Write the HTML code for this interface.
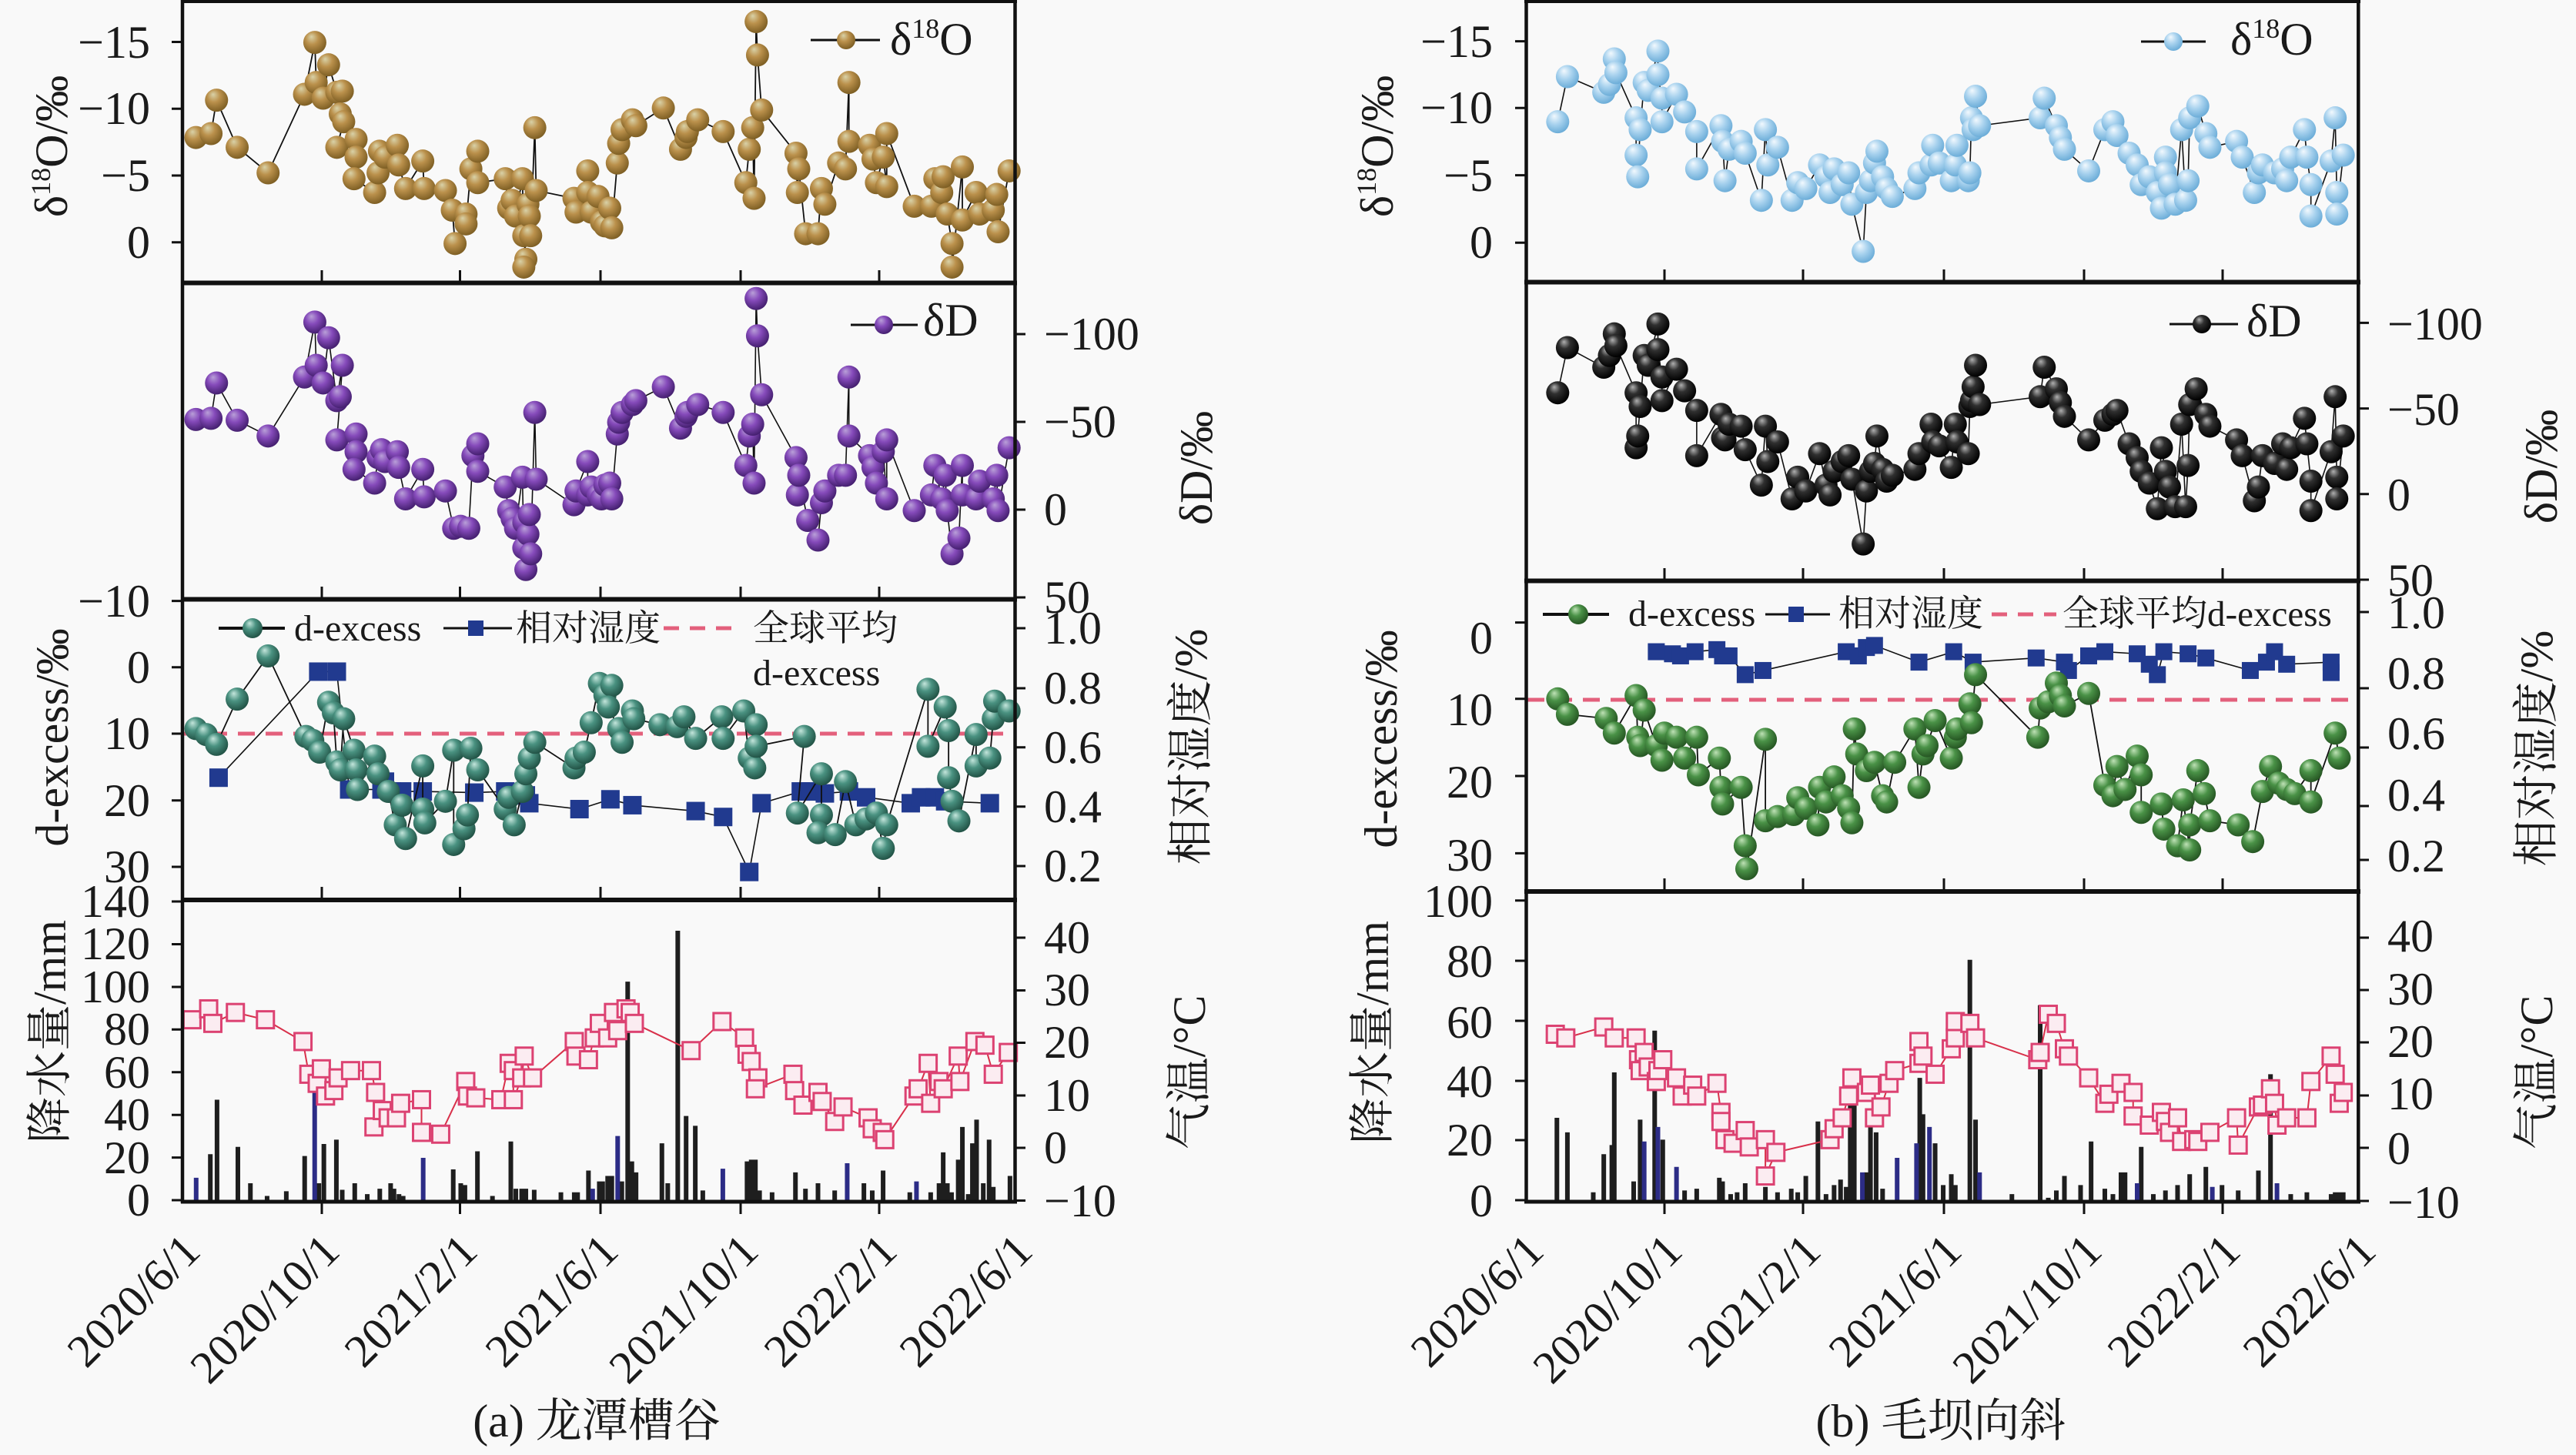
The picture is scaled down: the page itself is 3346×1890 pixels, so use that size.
<!DOCTYPE html>
<html><head><meta charset="utf-8"><style>
html,body{margin:0;padding:0;background:#f9f9f9;}
svg{display:block;}
text{font-family:"Liberation Serif","Noto Serif CJK SC",serif;fill:#1a1a1a;}
</style></head><body>
<svg width="3346" height="1890" viewBox="0 0 3346 1890" xmlns="http://www.w3.org/2000/svg">
<defs>
<radialGradient id="gGold" cx="0.42" cy="0.38" r="0.62" fx="0.35" fy="0.25"><stop offset="0" stop-color="#d9d2a8"/><stop offset="0.45" stop-color="#bb914c"/><stop offset="1" stop-color="#7e5f24"/></radialGradient>
<radialGradient id="gPurp" cx="0.42" cy="0.38" r="0.62" fx="0.35" fy="0.25"><stop offset="0" stop-color="#b9a0d8"/><stop offset="0.45" stop-color="#864bbb"/><stop offset="1" stop-color="#452070"/></radialGradient>
<radialGradient id="gTeal" cx="0.42" cy="0.38" r="0.62" fx="0.35" fy="0.25"><stop offset="0" stop-color="#c4e6dc"/><stop offset="0.45" stop-color="#4a9281"/><stop offset="1" stop-color="#225346"/></radialGradient>
<radialGradient id="gBlue" cx="0.42" cy="0.38" r="0.62" fx="0.35" fy="0.25"><stop offset="0" stop-color="#f2f9fe"/><stop offset="0.5" stop-color="#a8d2ee"/><stop offset="1" stop-color="#6cadd8"/></radialGradient>
<radialGradient id="gBlack" cx="0.42" cy="0.38" r="0.62" fx="0.35" fy="0.25"><stop offset="0" stop-color="#b0b0b0"/><stop offset="0.4" stop-color="#303030"/><stop offset="1" stop-color="#000"/></radialGradient>
<radialGradient id="gGreen" cx="0.42" cy="0.38" r="0.62" fx="0.35" fy="0.25"><stop offset="0" stop-color="#bfe2b6"/><stop offset="0.45" stop-color="#4a9247"/><stop offset="1" stop-color="#265623"/></radialGradient>

<marker id="mGold" markerUnits="userSpaceOnUse" markerWidth="1" markerHeight="1" refX="0" refY="0" orient="0" overflow="visible" style="overflow:visible"><ellipse cx="0" cy="0" rx="16.8" ry="29.4" fill="url(#gGold)"/></marker>
<marker id="mPurp" markerUnits="userSpaceOnUse" markerWidth="1" markerHeight="1" refX="0" refY="0" orient="0" overflow="visible" style="overflow:visible"><ellipse cx="0" cy="0" rx="16.8" ry="29.4" fill="url(#gPurp)"/></marker>
<marker id="mTeal" markerUnits="userSpaceOnUse" markerWidth="1" markerHeight="1" refX="0" refY="0" orient="0" overflow="visible" style="overflow:visible"><ellipse cx="0" cy="0" rx="16.8" ry="29.4" fill="url(#gTeal)"/></marker>
<marker id="mRH2" markerUnits="userSpaceOnUse" markerWidth="1" markerHeight="1" refX="0" refY="0" orient="0" overflow="visible" style="overflow:visible"><rect x="-13.44" y="-23.52" width="26.88" height="47.04" fill="#213a8f"/></marker>
<marker id="mBlue" markerUnits="userSpaceOnUse" markerWidth="1" markerHeight="1" refX="0" refY="0" orient="0" overflow="visible" style="overflow:visible"><ellipse cx="0" cy="0" rx="14.29" ry="29.4" fill="url(#gBlue)"/></marker>
<marker id="mBlack" markerUnits="userSpaceOnUse" markerWidth="1" markerHeight="1" refX="0" refY="0" orient="0" overflow="visible" style="overflow:visible"><ellipse cx="0" cy="0" rx="14.29" ry="29.4" fill="url(#gBlack)"/></marker>
<marker id="mGreen" markerUnits="userSpaceOnUse" markerWidth="1" markerHeight="1" refX="0" refY="0" orient="0" overflow="visible" style="overflow:visible"><ellipse cx="0" cy="0" rx="14.29" ry="27.67" fill="url(#gGreen)"/></marker>
<marker id="mRH5" markerUnits="userSpaceOnUse" markerWidth="1" markerHeight="1" refX="0" refY="0" orient="0" overflow="visible" style="overflow:visible"><rect x="-10.48" y="-20.29" width="20.96" height="40.58" fill="#213a8f"/></marker>
<marker id="mT3" markerUnits="userSpaceOnUse" markerWidth="1" markerHeight="1" refX="0" refY="0" orient="0" overflow="visible" style="overflow:visible"><rect x="-11.53" y="-26.49" width="23.06" height="52.97" fill="#dc4272"/><rect x="-8.76" y="-20.13" width="17.52" height="40.26" fill="#fbecf1"/></marker>
<marker id="mT6" markerUnits="userSpaceOnUse" markerWidth="1" markerHeight="1" refX="0" refY="0" orient="0" overflow="visible" style="overflow:visible"><rect x="-11.91" y="-26.49" width="23.82" height="52.97" fill="#dc4272"/><rect x="-9.05" y="-20.13" width="18.1" height="40.26" fill="#fbecf1"/></marker>
</defs>

<rect x="0" y="0" width="3346" height="1890" fill="#f9f9f9"/>

<!-- ================= LEFT CHART DATA ================= -->
<g transform="scale(0.892857,0.510204)">
<polyline fill="none" stroke="#111" stroke-width="1.8" vector-effect="non-scaling-stroke" marker-start="url(#mGold)" marker-mid="url(#mGold)" marker-end="url(#mGold)" points="285,350 307,340 315,255 345,375 390,440 443,240 458,108 460,210 470,250 478,165 490,235 498,232 495,290 500,310 490,375 518,355 518,400 515,455 545,490 550,440 552,385 560,400 578,370 580,420 590,480 615,410 617,480 648,485 658,535 662,620 678,545 678,570 685,430 695,385 695,465 735,455 740,530 745,510 750,550 760,455 762,600 765,660 762,680 768,520 770,550 772,600 778,325 780,485 835,505 838,540 855,435 855,490 860,540 870,500 875,565 880,575 887,530 890,580 898,415 900,365 905,330 920,305 925,320 965,275 990,380 998,350 1000,335 1015,305 1052,335 1085,465 1090,380 1095,325 1097,505 1100,55 1102,140 1108,280 1158,390 1160,490 1162,430 1172,595 1190,595 1195,480 1200,520 1220,415 1230,430 1235,210 1235,360 1265,370 1270,405 1275,465 1285,400 1290,475 1290,340 1330,525 1355,525 1360,455 1370,490 1372,450 1378,545 1385,620 1385,680 1400,425 1400,560 1420,490 1425,545 1445,535 1450,495 1452,590 1468,435"/>
<polyline fill="none" stroke="#111" stroke-width="1.6" vector-effect="non-scaling-stroke" marker-start="url(#mPurp)" marker-mid="url(#mPurp)" marker-end="url(#mPurp)" points="285,1068 307,1065 315,975 345,1070 390,1110 443,960 458,820 460,930 470,975 478,860 490,1020 498,930 495,1010 490,1120 518,1105 518,1150 515,1195 545,1230 550,1165 555,1145 560,1175 578,1150 580,1190 590,1270 615,1195 617,1265 648,1250 660,1345 670,1340 682,1345 688,1160 695,1130 695,1200 735,1240 740,1300 745,1320 750,1345 760,1215 762,1395 765,1450 762,1330 768,1360 770,1310 772,1410 778,1050 780,1220 835,1285 838,1250 855,1175 855,1260 860,1240 870,1260 875,1270 880,1235 887,1230 890,1270 898,1105 900,1075 905,1050 920,1030 925,1020 965,985 990,1090 998,1060 1000,1050 1015,1030 1052,1050 1085,1185 1090,1110 1095,1080 1097,1230 1100,760 1102,855 1108,1005 1158,1165 1160,1260 1162,1210 1175,1325 1190,1375 1195,1280 1200,1250 1220,1210 1230,1210 1235,960 1235,1110 1265,1160 1270,1190 1275,1230 1285,1150 1290,1270 1290,1120 1330,1300 1355,1260 1360,1185 1370,1270 1375,1210 1378,1300 1385,1410 1395,1370 1400,1185 1400,1260 1420,1270 1425,1225 1445,1270 1450,1210 1452,1300 1468,1140"/>
</g>

<line x1="237" y1="953" x2="1318" y2="953" stroke="#e3607c" stroke-width="5" stroke-dasharray="22 14"/>
<g transform="translate(0,750) scale(0.892857,0.510204)">
<polyline fill="none" stroke="#111" stroke-width="1.6" vector-effect="non-scaling-stroke" marker-start="url(#mRH2)" marker-mid="url(#mRH2)" marker-end="url(#mRH2)" points="318,510 463,240 490,240 508,540 555,540 560,520 570,545 585,545 615,545 690,548 735,545 765,555 770,575 843,590 888,565 920,580 1012,595 1052,610 1090,750 1108,575 1165,545 1180,545 1200,550 1235,545 1260,560 1325,575 1340,560 1360,560 1375,570 1440,575"/>
<polyline fill="none" stroke="#111" stroke-width="1.8" vector-effect="non-scaling-stroke" marker-start="url(#mTeal)" marker-mid="url(#mTeal)" marker-end="url(#mTeal)" points="285,385 300,400 315,425 345,310 390,200 445,405 455,415 465,445 478,318 485,345 490,470 495,490 500,360 515,440 518,490 520,540 545,455 550,500 565,545 575,630 585,580 590,665 615,480 615,590 618,625 648,570 660,440 660,680 675,640 680,605 685,435 695,490 735,590 740,560 748,630 760,545 765,500 770,460 778,420 835,485 838,460 850,445 860,370 872,270 880,300 890,275 885,330 900,385 905,420 920,340 922,360 960,375 985,380 995,355 1012,410 1050,355 1052,410 1082,340 1090,460 1098,485 1100,375 1100,430 1170,405 1160,600 1195,500 1195,605 1190,650 1215,655 1230,520 1245,630 1260,615 1275,600 1285,690 1290,630 1350,285 1350,430 1375,330 1380,390 1380,510 1385,570 1395,620 1420,400 1420,480 1440,460 1445,360 1447,315 1468,340"/>
</g>

<g transform="translate(0,1150) scale(1.084184,0.471939)">
<path fill="none" stroke="#1e1e1e" stroke-width="5.53" d="M252 740V866 M260 590V866 M285 720V866 M300 820V866 M320 855V866 M343 842V866 M365 745V866 M382 820V866 M388 712V866 M403 700V866 M410 838V866 M425 820V866 M440 850V866 M455 835V866 M468 820V866 M472 835V866 M478 850V866 M483 855V866 M543 782V866 M552 820V866 M557 825V866 M572 732V866 M590 855V866 M612 705V866 M618 835V866 M625 835V866 M630 835V866 M640 838V866 M672 845V866 M688 845V866 M692 845V866 M705 785V866 M718 815V866 M722 815V866 M728 800V866 M733 800V866 M745 815V866 M752 265V866 M757 760V866 M762 790V866 M793 710V866 M800 820V866 M812 125V866 M822 635V866 M833 662V866 M842 840V866 M895 760V866 M900 755V866 M905 755V866 M910 840V866 M925 845V866 M953 790V866 M965 835V866 M980 820V866 M1000 840V866 M1035 820V866 M1045 840V866 M1058 785V866 M1090 845V866 M1115 845V866 M1125 820V866 M1130 735V866 M1135 820V866 M1140 845V866 M1148 755V866 M1153 665V866 M1160 850V866 M1165 710V866 M1170 645V866 M1178 820V866 M1185 700V866 M1190 830V866 M1210 800V866"/>
<path fill="none" stroke="#2c2c86" stroke-width="5.53" d="M235 805V866 M377 570V866 M507 750V866 M710 835V866 M740 690V866 M866 780V866 M1015 765V866 M1098 815V866"/>
<polyline fill="none" stroke="#d8304a" stroke-width="2" vector-effect="non-scaling-stroke" marker-start="url(#mT3)" marker-mid="url(#mT3)" marker-end="url(#mT3)" points="230,370 250,340 255,380 282,350 318,370 363,430 370,520 380,545 385,505 390,580 400,565 405,530 420,510 445,510 450,570 448,665 458,620 465,640 475,640 480,600 505,590 505,680 528,685 558,540 560,580 570,585 600,590 610,490 615,510 615,590 625,530 628,470 638,530 688,430 690,470 705,480 712,420 718,380 728,420 735,350 740,400 750,340 755,350 760,380 828,455 865,375 892,420 895,465 900,485 908,530 905,560 950,520 952,565 962,605 980,570 985,595 1000,650 1010,610 1040,640 1045,670 1057,680 1060,700 1095,580 1100,560 1112,490 1115,600 1125,540 1130,560 1148,470 1150,540 1168,430 1180,440 1190,520 1208,460"/>
</g>

<!-- ================= RIGHT CHART DATA ================= -->
<g transform="translate(1700,0) scale(1.049745,0.510204)">
<polyline fill="none" stroke="#111" stroke-width="1.6" vector-effect="non-scaling-stroke" marker-start="url(#mBlue)" marker-mid="url(#mBlue)" marker-end="url(#mBlue)" points="308,310 320,195 365,235 372,215 378,150 380,185 405,300 405,395 407,450 410,330 415,210 420,230 432,130 432,190 437,250 437,310 455,240 465,285 480,335 480,430 510,320 512,360 515,460 520,380 535,360 540,390 560,510 565,330 568,420 580,375 598,510 605,465 615,480 632,420 640,450 645,490 650,430 660,470 668,440 672,520 686,640 690,490 695,460 700,415 703,385 710,450 715,480 722,500 750,480 755,440 770,420 772,370 780,415 795,460 800,420 802,370 816,460 818,440 820,300 822,330 825,245 830,320 905,300 910,250 925,320 930,350 935,380 965,435 985,330 995,310 1000,345 1015,390 1025,420 1030,470 1040,450 1050,490 1055,530 1060,400 1060,440 1065,470 1072,520 1080,330 1085,510 1088,460 1090,300 1100,270 1110,340 1115,375 1148,360 1155,400 1170,490 1175,440 1180,420 1195,440 1205,430 1210,460 1215,400 1232,330 1235,400 1240,470 1240,550 1265,410 1270,300 1272,490 1272,545 1280,395"/>
<polyline fill="none" stroke="#111" stroke-width="1.6" vector-effect="non-scaling-stroke" marker-start="url(#mBlack)" marker-mid="url(#mBlack)" marker-end="url(#mBlack)" points="308,1000 320,885 365,935 372,905 378,850 380,880 405,1000 405,1140 407,1110 410,1035 415,905 420,930 432,825 432,890 437,960 437,1020 455,940 465,995 480,1045 480,1160 510,1055 512,1115 515,1120 520,1080 535,1085 540,1145 560,1235 565,1085 568,1175 580,1125 598,1270 605,1215 615,1250 632,1155 640,1235 645,1260 650,1200 660,1175 668,1160 672,1220 686,1385 690,1250 695,1200 700,1180 703,1110 710,1195 715,1225 722,1210 750,1195 755,1155 770,1080 772,1125 780,1135 795,1190 800,1080 802,1125 816,1155 818,1035 820,1020 822,985 825,930 830,1030 905,1010 910,935 925,990 930,1025 935,1060 965,1120 985,1070 995,1055 1000,1045 1015,1130 1025,1165 1030,1200 1040,1230 1050,1295 1055,1140 1060,1200 1065,1240 1072,1290 1080,1080 1085,1290 1088,1185 1090,1030 1098,990 1110,1055 1115,1085 1148,1120 1155,1160 1170,1275 1175,1240 1180,1160 1195,1180 1205,1130 1210,1195 1215,1140 1232,1065 1235,1130 1240,1225 1240,1300 1265,1150 1270,1010 1272,1215 1272,1270 1280,1110"/>
</g>

<line x1="1984" y1="909" x2="3062" y2="909" stroke="#e3607c" stroke-width="5" stroke-dasharray="22 14"/>
<g transform="translate(1700,730) scale(1.049745,0.542092)">
<polyline fill="none" stroke="#111" stroke-width="1.6" vector-effect="non-scaling-stroke" marker-start="url(#mRH5)" marker-mid="url(#mRH5)" marker-end="url(#mRH5)" points="430,215 450,220 460,225 478,215 505,210 512,225 520,225 540,270 562,260 665,215 680,225 690,205 700,200 755,240 798,215 822,240 900,230 935,240 940,260 965,225 985,215 1025,220 1040,245 1050,270 1058,215 1088,220 1110,230 1165,260 1185,240 1195,215 1210,245 1265,240 1265,265"/>
<polyline fill="none" stroke="#111" stroke-width="1.8" vector-effect="non-scaling-stroke" marker-start="url(#mGreen)" marker-mid="url(#mGreen)" marker-end="url(#mGreen)" points="308,328 320,365 368,375 378,410 405,320 407,420 410,440 415,355 430,440 437,475 440,410 455,420 465,470 480,420 482,510 508,470 510,540 512,580 535,540 540,680 542,735 565,425 565,620 580,610 600,605 605,565 615,590 630,630 632,540 640,575 650,515 660,560 668,590 672,625 675,400 678,460 690,500 700,480 710,560 715,575 725,480 750,400 755,540 760,460 765,440 775,380 795,470 800,420 802,400 818,340 820,385 825,270 902,420 905,350 915,335 925,290 930,320 935,345 965,315 985,535 995,560 1000,490 1010,545 1025,465 1030,510 1030,600 1055,580 1058,640 1075,680 1082,570 1090,690 1090,630 1100,500 1108,555 1115,620 1150,630 1168,670 1180,550 1190,490 1200,530 1210,545 1220,555 1240,500 1240,575 1270,410 1275,470"/>
</g>

<g transform="translate(1700,1150) scale(1.049745,0.471939)">
<path fill="none" stroke="#1e1e1e" stroke-width="5.72" d="M307 640V867 M320 680V867 M352 845V867 M365 740V867 M375 715V867 M378 515V867 M402 815V867 M410 645V867 M428 400V867 M438 700V867 M465 840V867 M480 835V867 M508 805V867 M512 815V867 M522 850V867 M530 845V867 M540 820V867 M565 830V867 M580 845V867 M597 835V867 M605 845V867 M615 800V867 M630 650V867 M640 850V867 M650 825V867 M658 810V867 M665 830V867 M670 600V867 M675 575V867 M690 790V867 M695 665V867 M702 680V867 M710 835V867 M756 530V867 M760 630V867 M775 710V867 M785 825V867 M795 795V867 M800 825V867 M818 205V867 M825 645V867 M870 850V867 M905 330V867 M915 860V867 M925 840V867 M935 800V867 M955 825V867 M968 705V867 M985 835V867 M995 850V867 M1005 790V867 M1010 790V867 M1030 720V867 M1045 850V867 M1060 840V867 M1075 825V867 M1090 795V867 M1110 775V867 M1130 825V867 M1150 840V867 M1175 785V867 M1190 520V867 M1215 850V867 M1235 845V867 M1265 850V867 M1270 845V867 M1275 845V867 M1280 845V867"/>
<path fill="none" stroke="#2c2c86" stroke-width="5.72" d="M415 705V867 M432 665V867 M455 775V867 M685 790V867 M728 750V867 M752 710V867 M768 665V867 M830 790V867 M1025 820V867 M1118 830V867 M1198 820V867"/>
<polyline fill="none" stroke="#d8304a" stroke-width="2" vector-effect="non-scaling-stroke" marker-start="url(#mT6)" marker-mid="url(#mT6)" marker-end="url(#mT6)" points="305,410 318,420 365,390 378,420 405,420 408,480 410,510 415,460 420,500 430,540 432,510 438,480 455,530 462,580 475,550 480,580 505,545 510,625 510,650 515,700 525,710 540,675 545,720 565,700 565,800 578,735 645,700 650,670 660,640 668,580 672,530 690,570 695,550 700,640 708,610 718,545 725,510 755,490 755,430 760,470 775,520 795,450 800,420 800,375 818,380 825,420 902,480 905,460 915,355 925,380 935,450 940,470 965,530 985,600 990,575 1005,545 1020,570 1020,635 1040,660 1055,625 1060,650 1065,680 1075,640 1080,705 1095,700 1100,705 1115,680 1148,640 1150,715 1175,610 1180,605 1190,560 1195,600 1198,660 1210,640 1235,640 1240,540 1265,470 1270,520 1275,600 1280,570"/>
</g>

<!-- ================= FRAMES ================= -->
<g stroke="#111" fill="none">
<line x1="235" y1="2" x2="1321" y2="2" stroke-width="4"/>
<line x1="237" y1="0" x2="237" y2="1563" stroke-width="4.5"/>
<line x1="1318.5" y1="0" x2="1318.5" y2="1563" stroke-width="4.5"/>
<line x1="235" y1="367.5" x2="1321" y2="367.5" stroke-width="6"/>
<line x1="235" y1="778.5" x2="1321" y2="778.5" stroke-width="6"/>
<line x1="235" y1="1169" x2="1321" y2="1169" stroke-width="6"/>
<line x1="235" y1="1561" x2="1321" y2="1561" stroke-width="5"/>

<line x1="1980" y1="2" x2="3066" y2="2" stroke-width="4"/>
<line x1="1982.5" y1="0" x2="1982.5" y2="1563" stroke-width="4.5"/>
<line x1="3063.3" y1="0" x2="3063.3" y2="1563" stroke-width="4.5"/>
<line x1="1980" y1="366.5" x2="3066" y2="366.5" stroke-width="6"/>
<line x1="1980" y1="754.5" x2="3066" y2="754.5" stroke-width="6"/>
<line x1="1980" y1="1158" x2="3066" y2="1158" stroke-width="6"/>
<line x1="1980" y1="1561" x2="3066" y2="1561" stroke-width="5"/>

<path stroke-width="3" d="M223 54.5H237 M223 141.3H237 M223 228H237 M223 314.8H237 M223 780.6H237 M223 866.8H237 M223 953H237 M223 1039.8H237 M223 1126H237 M223 1171H237 M223 1226.5H237 M223 1282H237 M223 1337.3H237 M223 1392.7H237 M223 1448.2H237 M223 1503.6H237 M223 1559H237
M1318 434H1332 M1318 548H1332 M1318 662H1332 M1318 776H1332 M1318 816H1332 M1318 894H1332 M1318 970.7H1332 M1318 1047.7H1332 M1318 1125H1332 M1318 1218H1332 M1318 1286.5H1332 M1318 1354.5H1332 M1318 1423H1332 M1318 1491H1332 M1318 1559.5H1332
M418 351V365 M418 762V776 M418 1152V1166 M418 1563V1577
M597.5 351V365 M597.5 762V776 M597.5 1152V1166 M597.5 1563V1577
M780 351V365 M780 762V776 M780 1152V1166 M780 1563V1577
M962 351V365 M962 762V776 M962 1152V1166 M962 1563V1577
M1142 351V365 M1142 762V776 M1142 1152V1166 M1142 1563V1577"/>
<path stroke-width="3" d="M1968 53.6H1982 M1968 140.3H1982 M1968 227.6H1982 M1968 315.3H1982 M1968 808.6H1982 M1968 907.8H1982 M1968 1008H1982 M1968 1108.4H1982 M1968 1169.8H1982 M1968 1248H1982 M1968 1326H1982 M1968 1404H1982 M1968 1481H1982 M1968 1559H1982
M3063 419.4H3077 M3063 530.6H3077 M3063 641.8H3077 M3063 753H3077 M3063 795H3077 M3063 894H3077 M3063 971H3077 M3063 1047H3077 M3063 1117H3077 M3063 1218H3077 M3063 1286H3077 M3063 1354H3077 M3063 1423H3077 M3063 1491H3077 M3063 1560H3077
M2162 350V364 M2162 738V752 M2162 1141V1155 M2162 1563V1577
M2342 350V364 M2342 738V752 M2342 1141V1155 M2342 1563V1577
M2525 350V364 M2525 738V752 M2525 1141V1155 M2525 1563V1577
M2707 350V364 M2707 738V752 M2707 1141V1155 M2707 1563V1577
M2887 350V364 M2887 738V752 M2887 1141V1155 M2887 1563V1577"/>
</g>

<!-- ================= LEGENDS ================= -->
<line x1="1053" y1="52" x2="1143" y2="52" stroke="#111" stroke-width="3"/>
<circle cx="1099" cy="52" r="12" fill="url(#gGold)"/>
<text x="1156" y="71" font-size="60">δ<tspan font-size="36" dy="-22">18</tspan><tspan dy="22">O</tspan></text>

<line x1="1105" y1="422" x2="1192" y2="422" stroke="#111" stroke-width="3"/>
<circle cx="1148" cy="422" r="12" fill="url(#gPurp)"/>
<text x="1199" y="436" font-size="60">δD</text>

<line x1="284" y1="816" x2="370" y2="816" stroke="#111" stroke-width="4"/>
<circle cx="328" cy="816" r="13" fill="url(#gTeal)"/>
<text x="382" y="832" font-size="48">d-excess</text>
<line x1="576" y1="816" x2="665" y2="816" stroke="#111" stroke-width="3"/>
<rect x="608" y="806" width="20" height="20" fill="#213a8f"/>
<text x="670" y="832" font-size="47">相对湿度</text>
<line x1="862" y1="816" x2="964" y2="816" stroke="#e3607c" stroke-width="5" stroke-dasharray="20 14"/>
<text x="978" y="832" font-size="47">全球平均</text>
<text x="978" y="890" font-size="48">d-excess</text>

<line x1="2781" y1="54" x2="2865" y2="54" stroke="#111" stroke-width="3"/>
<circle cx="2823" cy="54" r="12" fill="url(#gBlue)"/>
<text x="2897" y="71" font-size="60">δ<tspan font-size="36" dy="-22">18</tspan><tspan dy="22">O</tspan></text>

<line x1="2818" y1="421" x2="2907" y2="421" stroke="#111" stroke-width="3"/>
<circle cx="2860" cy="421" r="12" fill="url(#gBlack)"/>
<text x="2918" y="437" font-size="60">δD</text>

<line x1="2004" y1="798" x2="2090" y2="798" stroke="#111" stroke-width="4"/>
<circle cx="2050" cy="798" r="13" fill="url(#gGreen)"/>
<text x="2115" y="813" font-size="48">d-excess</text>
<line x1="2293" y1="798" x2="2377" y2="798" stroke="#111" stroke-width="3"/>
<rect x="2323" y="788" width="20" height="20" fill="#213a8f"/>
<text x="2388" y="813" font-size="47">相对湿度</text>
<line x1="2587" y1="798" x2="2671" y2="798" stroke="#e3607c" stroke-width="5" stroke-dasharray="20 14"/>
<text x="2679" y="813" font-size="47">全球平均d-excess</text>

<!-- ================= TICK LABELS ================= -->
<g font-size="60" text-anchor="end">
<text x="195" y="75">−15</text><text x="195" y="161">−10</text><text x="195" y="248">−5</text><text x="195" y="335">0</text>
<text x="195" y="801">−10</text><text x="195" y="887">0</text><text x="195" y="973">10</text><text x="195" y="1060">20</text><text x="195" y="1146">30</text>
<text x="195" y="1191">140</text><text x="195" y="1246">120</text><text x="195" y="1302">100</text><text x="195" y="1357">80</text><text x="195" y="1413">60</text><text x="195" y="1468">40</text><text x="195" y="1524">20</text><text x="195" y="1579">0</text>

<text x="1939" y="74">−15</text><text x="1939" y="160">−10</text><text x="1939" y="248">−5</text><text x="1939" y="335">0</text>
<text x="1939" y="849">0</text><text x="1939" y="942">10</text><text x="1939" y="1036">20</text><text x="1939" y="1131">30</text>
<text x="1939" y="1191">100</text><text x="1939" y="1269">80</text><text x="1939" y="1348">60</text><text x="1939" y="1425">40</text><text x="1939" y="1501">20</text><text x="1939" y="1580">0</text>
</g>
<g font-size="60" text-anchor="start">
<text x="1356" y="454">−100</text><text x="1356" y="568">−50</text><text x="1356" y="682">0</text><text x="1356" y="796">50</text>
<text x="1356" y="836">1.0</text><text x="1356" y="914">0.8</text><text x="1356" y="991">0.6</text><text x="1356" y="1068">0.4</text><text x="1356" y="1145">0.2</text>
<text x="1356" y="1238">40</text><text x="1356" y="1306">30</text><text x="1356" y="1374">20</text><text x="1356" y="1443">10</text><text x="1356" y="1511">0</text><text x="1356" y="1580">−10</text>

<text x="3101" y="441">−100</text><text x="3101" y="552">−50</text><text x="3101" y="663">0</text><text x="3101" y="774">50</text>
<text x="3101" y="816">1.0</text><text x="3101" y="895">0.8</text><text x="3101" y="973">0.6</text><text x="3101" y="1053">0.4</text><text x="3101" y="1132">0.2</text>
<text x="3101" y="1236">40</text><text x="3101" y="1305">30</text><text x="3101" y="1373">20</text><text x="3101" y="1441">10</text><text x="3101" y="1512">0</text><text x="3101" y="1582">−10</text>
</g>

<!-- X labels -->
<g font-size="60" text-anchor="end">
<text transform="translate(263,1628) rotate(-45)">2020/6/1</text>
<text transform="translate(444,1628) rotate(-45)">2020/10/1</text>
<text transform="translate(623,1628) rotate(-45)">2021/2/1</text>
<text transform="translate(806,1628) rotate(-45)">2021/6/1</text>
<text transform="translate(988,1628) rotate(-45)">2021/10/1</text>
<text transform="translate(1168,1628) rotate(-45)">2022/2/1</text>
<text transform="translate(1344,1628) rotate(-45)">2022/6/1</text>

<text transform="translate(2008,1628) rotate(-45)">2020/6/1</text>
<text transform="translate(2188,1628) rotate(-45)">2020/10/1</text>
<text transform="translate(2368,1628) rotate(-45)">2021/2/1</text>
<text transform="translate(2551,1628) rotate(-45)">2021/6/1</text>
<text transform="translate(2733,1628) rotate(-45)">2021/10/1</text>
<text transform="translate(2913,1628) rotate(-45)">2022/2/1</text>
<text transform="translate(3089,1628) rotate(-45)">2022/6/1</text>
</g>

<!-- Axis titles -->
<g font-size="60" text-anchor="middle">
<text transform="translate(87,190) rotate(-90)">δ<tspan font-size="36" dy="-22">18</tspan><tspan dy="22">O/‰</tspan></text>
<text transform="translate(88,958) rotate(-90)">d-excess/‰</text>
<text transform="translate(85,1340) rotate(-90)">降水量/mm</text>
<text transform="translate(1574,608) rotate(-90)">δD/‰</text>
<text transform="translate(1567,970) rotate(-90)">相对湿度/%</text>
<text transform="translate(1565,1393) rotate(-90)">气温/°C</text>

<text transform="translate(1809,190) rotate(-90)">δ<tspan font-size="36" dy="-22">18</tspan><tspan dy="22">O/‰</tspan></text>
<text transform="translate(1814,960) rotate(-90)">d-excess/‰</text>
<text transform="translate(1803,1341) rotate(-90)">降水量/mm</text>
<text transform="translate(3321,606) rotate(-90)">δD/‰</text>
<text transform="translate(3315,972) rotate(-90)">相对湿度/%</text>
<text transform="translate(3315,1393) rotate(-90)">气温/°C</text>

<text x="775" y="1866">(a) 龙潭槽谷</text>
<text x="2521" y="1866">(b) 毛坝向斜</text>
</g>
</svg>
</body></html>
